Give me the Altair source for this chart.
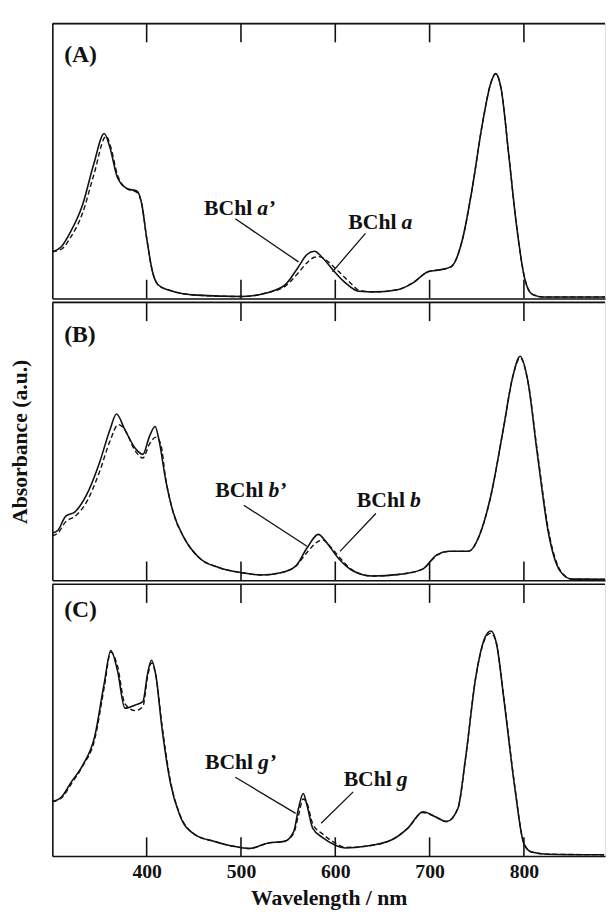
import altair as alt
import pandas as pd

# ---------------- data ----------------
TICKS = [400, 500, 600, 700, 800]
PANEL_LABELS = ["(A)", "(B)", "(C)"]

# Panel A : BChl a' (solid) / BChl a (dashed)
A_wl = [300, 310, 319, 332, 344, 355, 361, 369, 379, 390, 395, 400, 406, 412, 424, 453, 500, 527, 547, 560,
        570, 578, 586, 596, 609, 625, 641, 666, 682, 699, 711, 723, 735, 745, 756, 765, 770, 776, 784, 792,
        801, 809, 821, 890]
A_solid = [0.17, 0.19, 0.24, 0.34, 0.49, 0.60, 0.55, 0.44, 0.40, 0.39, 0.34, 0.22, 0.10, 0.05, 0.03, 0.012, 0.007, 0.02, 0.05, 0.11,
           0.16, 0.172, 0.15, 0.11, 0.062, 0.026, 0.024, 0.032, 0.056, 0.098, 0.104, 0.116, 0.217, 0.397, 0.636, 0.785, 0.818, 0.76, 0.52, 0.27,
           0.07, 0.015, 0.005, 0.005]
A_dash_wl = [300, 310, 319, 332, 344, 357, 362, 369, 379, 390, 395, 400, 406, 412, 424, 453, 500, 527, 547, 560,
             570, 578, 583, 590, 600, 609, 618, 625, 641, 666, 682, 699, 711, 723, 735, 745, 756, 765, 770, 776,
             784, 792, 801, 809, 821, 890]
A_dash = [0.17, 0.18, 0.22, 0.31, 0.45, 0.59, 0.55, 0.45, 0.40, 0.385, 0.34, 0.22, 0.10, 0.05, 0.03, 0.012, 0.007, 0.02, 0.045, 0.09,
          0.13, 0.15, 0.152, 0.14, 0.11, 0.08, 0.05, 0.03, 0.024, 0.032, 0.056, 0.098, 0.104, 0.116, 0.217, 0.397, 0.636, 0.785, 0.818, 0.76,
          0.52, 0.27, 0.07, 0.015, 0.005, 0.005]

# Panel B : BChl b' (solid) / BChl b (dashed)
B_wl = [300, 306, 314, 324, 336, 350, 361, 368, 377, 389, 396, 403, 409, 413, 420, 428, 440, 456, 477, 501,
        521, 542, 558, 570, 582, 590, 603, 619, 639, 668, 692, 708, 721, 741, 753, 765, 778, 788, 796, 804,
        814, 826, 839, 851, 887]
B_solid = [0.17, 0.18, 0.23, 0.246, 0.305, 0.423, 0.541, 0.598, 0.541, 0.47, 0.453, 0.518, 0.553, 0.506, 0.364, 0.246, 0.151, 0.08, 0.045, 0.027,
           0.019, 0.027, 0.051, 0.116, 0.165, 0.139, 0.08, 0.033, 0.015, 0.021, 0.039, 0.092, 0.104, 0.104, 0.163, 0.305, 0.541, 0.73, 0.806, 0.72,
           0.46, 0.17, 0.03, 0.004, 0.003]
B_dash_wl = [300, 306, 314, 324, 336, 350, 361, 370, 375, 389, 396, 403, 410, 415, 420, 428, 440, 456, 477, 501,
             521, 542, 558, 570, 582, 587, 595, 605, 615, 625, 639, 668, 692, 708, 721, 741, 753, 765, 778, 788,
             796, 804, 814, 826, 839, 851, 887]
B_dash = [0.16, 0.17, 0.21, 0.23, 0.28, 0.39, 0.50, 0.56, 0.55, 0.46, 0.44, 0.49, 0.515, 0.49, 0.37, 0.246, 0.151, 0.08, 0.045, 0.027,
          0.019, 0.027, 0.05, 0.10, 0.14, 0.145, 0.12, 0.08, 0.045, 0.025, 0.015, 0.021, 0.039, 0.09, 0.104, 0.104, 0.163, 0.305, 0.541, 0.73,
          0.80, 0.72, 0.47, 0.18, 0.033, 0.004, 0.003]

# Panel C : BChl g' (solid) / BChl g (dashed)
C_wl = [300, 310, 320, 332, 345, 355, 362, 369, 377, 388, 396, 401, 405, 410, 416, 425, 435, 451, 472, 492,
        509, 529, 546, 556, 561, 566, 570, 576, 587, 599, 611, 632, 660, 677, 693, 706, 718, 730, 738, 749,
        759, 765, 771, 779, 790, 800, 808, 825, 885]
C_solid = [0.20, 0.218, 0.272, 0.333, 0.441, 0.635, 0.756, 0.683, 0.544, 0.556, 0.568, 0.671, 0.72, 0.659, 0.478, 0.272, 0.151, 0.079, 0.054, 0.036,
           0.028, 0.048, 0.054, 0.091, 0.175, 0.23, 0.187, 0.103, 0.067, 0.042, 0.03, 0.036, 0.06, 0.103, 0.163, 0.145, 0.127, 0.175, 0.357, 0.659,
           0.806, 0.828, 0.78, 0.57, 0.26, 0.045, 0.015, 0.007, 0.005]
C_dash = [0.20, 0.215, 0.265, 0.33, 0.43, 0.62, 0.75, 0.70, 0.56, 0.535, 0.55, 0.66, 0.71, 0.66, 0.49, 0.28, 0.155, 0.08, 0.054, 0.036,
          0.028, 0.048, 0.054, 0.085, 0.15, 0.21, 0.195, 0.12, 0.08, 0.05, 0.032, 0.036, 0.06, 0.103, 0.16, 0.145, 0.127, 0.175, 0.357, 0.659,
          0.80, 0.82, 0.78, 0.575, 0.265, 0.047, 0.015, 0.007, 0.005]

# annotations: [prime, plain]
ANN_LETTER = [["a’", "a"], ["b’", "b"], ["g’", "g"]]
ANN_WL = [[514, 667], [526, 676], [515, 662]]
ANN_Y = [[0.305, 0.254], [0.298, 0.262], [0.32, 0.259]]
LEAD_WL1 = [[494, 632], [503, 643], [494, 619]]
LEAD_Y1 = [[0.29, 0.237], [0.27, 0.24], [0.29, 0.236]]
LEAD_WL2 = [[561, 597], [570, 605], [558, 585]]
LEAD_Y2 = [[0.133, 0.097], [0.122, 0.104], [0.157, 0.121]]

SOLID = [(A_wl, A_solid), (B_wl, B_solid), (C_wl, C_solid)]
DASHED = [(A_dash_wl, A_dash), (B_dash_wl, B_dash), (C_wl, C_dash)]

# ---------------- layout ----------------
W = 561
HEIGHTS = [279, 282, 276]
LABEL_Y = [39, 40, 33]
FONT = "Liberation Serif"
INK = "#111111"
TL = 19  # inward tick length

xscale = alt.Scale(domain=[300, 886], nice=False, zero=False)
yscale = alt.Scale(domain=[0, 1], nice=False, zero=False)


def make_x(field, show_labels):
    return alt.X(
        field, type="quantitative", scale=xscale,
        axis=alt.Axis(
            values=TICKS, ticks=False, grid=False, labels=show_labels,
            domain=True, domainColor=INK, domainWidth=1.6,
            labelFont=FONT, labelFontSize=20, labelFontWeight="bold", labelColor=INK,
            labelPadding=6,
            title="Wavelength / nm" if show_labels else "",
            titleFont=FONT, titleFontSize=22, titleFontWeight="bold", titleColor=INK,
            titlePadding=6,
        ),
    )


def make_y(field, show_title):
    return alt.Y(
        field, type="quantitative", scale=yscale,
        axis=alt.Axis(
            labels=False, ticks=False, grid=False,
            domain=True, domainColor=INK, domainWidth=1.6,
            title="Absorbance (a.u.)",
            titleOpacity=1 if show_title else 0,
            titleFont=FONT, titleFontSize=22, titleFontWeight="bold", titleColor=INK,
            titlePadding=21,
        ),
    )


def panel(i):
    h = HEIGHTS[i]
    last = i == 2
    mid = i == 1
    X = lambda f: make_x(f, last)
    Y = lambda f: make_y(f, mid)

    swl, sv = SOLID[i]
    dwl, dv = DASHED[i]
    df_s = pd.DataFrame({"wl": swl, "v": sv})
    df_d = pd.DataFrame({"wl": dwl, "v": dv})

    solid = alt.Chart(df_s).mark_line(
        color=INK, strokeWidth=1.6, interpolate="monotone", clip=True
    ).encode(x=X("wl"), y=Y("v"))
    dashed = alt.Chart(df_d).mark_line(
        color=INK, strokeWidth=1.4, strokeDash=[5, 3], interpolate="monotone", clip=True
    ).encode(x=X("wl"), y=Y("v"))

    df_lead = pd.DataFrame({
        "wl": LEAD_WL1[i], "v": LEAD_Y1[i], "wl2": LEAD_WL2[i], "v2": LEAD_Y2[i],
    })
    leaders = alt.Chart(df_lead).mark_rule(color=INK, strokeWidth=1.3).encode(
        x=X("wl"), y=Y("v"), x2="wl2", y2="v2"
    )

    df_ann = pd.DataFrame({
        "wl": ANN_WL[i], "v": ANN_Y[i], "letter": ANN_LETTER[i], "name": ["BChl", "BChl"],
    })
    name_txt = alt.Chart(df_ann).mark_text(
        align="right", baseline="alphabetic", dx=-2, font=FONT, fontSize=22,
        fontWeight="bold", color=INK
    ).encode(x=X("wl"), y=Y("v"), text="name:N")
    letter_txt = alt.Chart(df_ann).mark_text(
        align="left", baseline="alphabetic", dx=3, font=FONT, fontSize=22,
        fontWeight="bold", fontStyle="italic", color=INK
    ).encode(x=X("wl"), y=Y("v"), text="letter:N")

    df_t = pd.DataFrame({"wl": TICKS})
    top_ticks = alt.Chart(df_t).mark_rule(color=INK, strokeWidth=1.6).encode(
        x=X("wl"), y=alt.value(0), y2=alt.value(TL)
    )
    bot_ticks = alt.Chart(df_t).mark_rule(color=INK, strokeWidth=1.6).encode(
        x=X("wl"), y=alt.value(h - TL), y2=alt.value(h)
    )
    top_line = alt.Chart(pd.DataFrame({"k": [0]})).mark_rule(color=INK, strokeWidth=1.6).encode(
        x=alt.value(0), x2=alt.value(W), y=alt.value(0)
    )

    df_lab = pd.DataFrame({"label": [PANEL_LABELS[i]]})
    plabel = alt.Chart(df_lab).mark_text(
        align="left", baseline="alphabetic", font=FONT, fontSize=24,
        fontWeight="bold", color=INK
    ).encode(x=alt.value(12), y=alt.value(LABEL_Y[i]), text="label:N")

    return alt.layer(
        solid, dashed, leaders, name_txt, letter_txt, top_ticks, bot_ticks, top_line, plabel
    ).properties(width=W, height=h)


chart = alt.vconcat(panel(0), panel(1), panel(2), spacing=0).properties(
    padding={"left": 0, "top": 7, "right": 0, "bottom": 0}
).configure_view(stroke=None).configure(background="white")

chart.save("out.html", embed_options={"renderer": "svg", "actions": False})
